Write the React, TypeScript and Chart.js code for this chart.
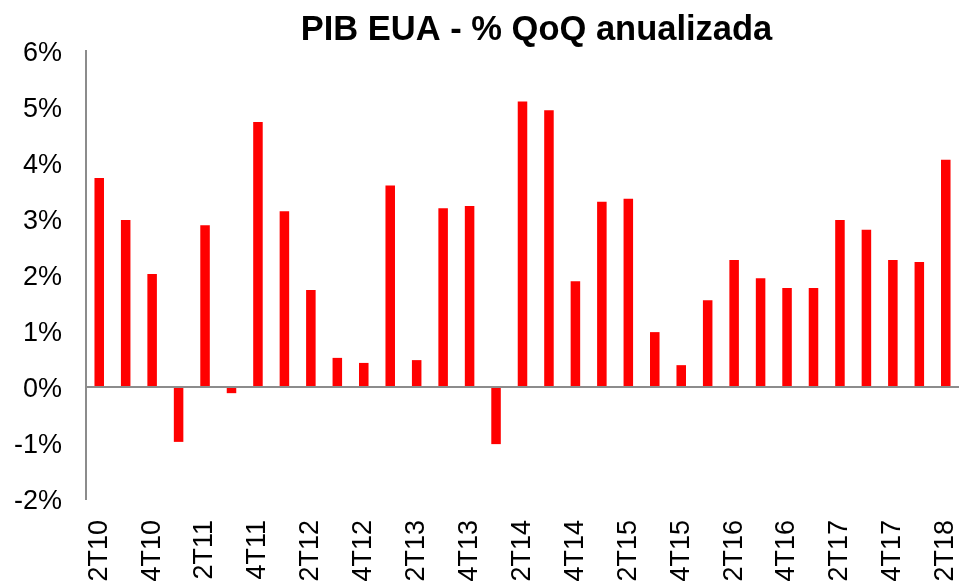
import React, { useEffect, useRef } from "react";
import { Chart, registerables } from "chart.js";

Chart.register(...registerables);

const categories = [
  "2T10", "3T10", "4T10", "1T11", "2T11", "3T11", "4T11", "1T12", "2T12", "3T12", "4T12",
  "1T13", "2T13", "3T13", "4T13", "1T14", "2T14", "3T14", "4T14", "1T15", "2T15", "3T15",
  "4T15", "1T16", "2T16", "3T16", "4T16", "1T17", "2T17", "3T17", "4T17", "1T18", "2T18",
];

const gdpQoQ = [
  3.73, 2.98, 2.02, -0.98, 2.89, -0.11, 4.73, 3.14, 1.73, 0.52, 0.43,
  3.6, 0.48, 3.19, 3.23, -1.02, 5.1, 4.94, 1.89, 3.31, 3.36, 0.98,
  0.39, 1.55, 2.27, 1.94, 1.77, 1.77, 2.98, 2.81, 2.27, 2.23, 4.06,
];

const titleText = "PIB EUA - % QoQ anualizada";
const yMin = -2;
const yMax = 6;

const FONT = "'Liberation Sans', Arial, Helvetica, sans-serif";

const titlePlugin = {
  id: "customTitle",
  afterDraw(chart: any) {
    const ctx = chart.ctx;
    ctx.save();
    ctx.font = `bold 34.5px ${FONT}`;
    ctx.fillStyle = "#000";
    ctx.textAlign = "center";
    ctx.textBaseline = "middle";
    const x = (chart.chartArea.left + chart.chartArea.right) / 2 + 14;
    ctx.fillText(titleText, x, 30);
    ctx.restore();
  },
};

export default function App() {
  const ref = useRef<HTMLCanvasElement | null>(null);

  useEffect(() => {
    if (!ref.current) return;
    const chart = new Chart(ref.current, {
      type: "bar",
      data: {
        labels: categories,
        datasets: [
          {
            data: gdpQoQ,
            backgroundColor: "#FF0000",
            borderWidth: 0,
            barPercentage: 0.36,
            categoryPercentage: 1,
          },
        ],
      },
      options: {
        animation: false,
        responsive: true,
        maintainAspectRatio: false,
        layout: { padding: { top: 51, right: 5, left: 0, bottom: 0 } },
        plugins: {
          legend: { display: false },
          title: { display: false },
          tooltip: { enabled: false },
        },
        scales: {
          x: {
            grid: { display: false, drawTicks: false },
            border: { display: false },
            ticks: {
              autoSkip: false,
              minRotation: 90,
              maxRotation: 90,
              padding: 21,
              color: "#000",
              font: { family: FONT, size: 27 },
              callback: (_v: any, i: number) => (i % 2 === 0 ? categories[i] : ""),
            },
            afterFit: (scale: any) => {
              scale.height = 87;
              scale.paddingLeft = 0;
              scale.paddingRight = 0;
            },
          },
          y: {
            min: yMin,
            max: yMax,
            grid: {
              drawTicks: false,
              color: (ctx: any) => (ctx.tick && ctx.tick.value === 0 ? "#8C8C8C" : "rgba(0,0,0,0)"),
              lineWidth: 2,
            },
            border: { display: true, color: "#8C8C8C", width: 2 },
            ticks: {
              stepSize: 1,
              padding: 24,
              labelOffset: 3,
              color: "#000",
              font: { family: FONT, size: 27 },
              callback: (v: any) => `${v}%`,
            },
            afterFit: (scale: any) => {
              scale.width = 86;
            },
          },
        },
      },
      plugins: [titlePlugin],
    });
    return () => chart.destroy();
  }, []);

  return (
    <div style={{ position: "fixed", left: 0, top: 0, width: 964, height: 586, background: "#fff" }}>
      <canvas ref={ref} />
    </div>
  );
}
